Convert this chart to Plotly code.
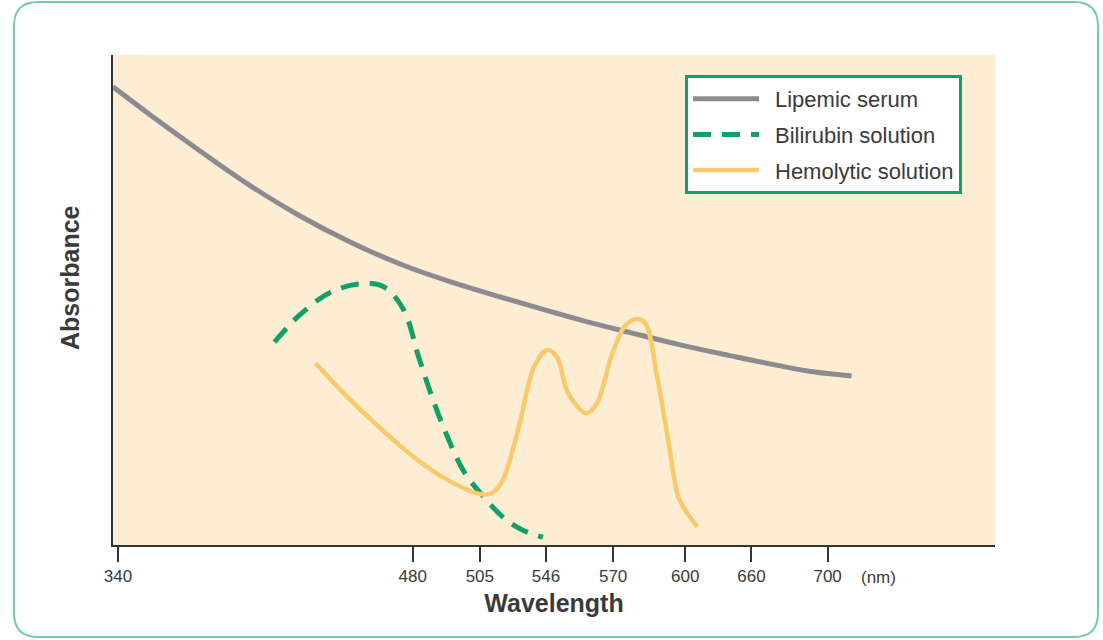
import numpy as np
import plotly.graph_objects as go

# Wavelength axis is drawn on a non-uniform scale: each labelled wavelength
# sits at a fixed place along the axis, and values in between are placed by
# piecewise-linear interpolation.
TICK_NM = [340, 480, 505, 546, 570, 600, 660, 700]
TICK_AXIS = [5, 299, 366, 432, 499, 571, 637, 713]  # axis units (0..880)
AXIS_RANGE = [0, 880]

# Absorption spectra (wavelength in nm, absorbance in arbitrary units)
lipemic_nm = [337.6, 355.2, 379.0, 402.9, 426.7, 450.5, 474.3, 494.2, 518.0,
              558.5, 577.5, 598.3, 641.8, 675.8, 693.2, 712.6]
lipemic_abs = [0.935, 0.878, 0.804, 0.733, 0.671, 0.618, 0.573, 0.537, 0.506,
               0.459, 0.433, 0.408, 0.386, 0.365, 0.353, 0.345]

bilirubin_nm = [414.3, 426.2, 441.0, 455.2, 466.2, 475.7, 482.2, 486.7, 492.3,
                499.4, 507.5, 519.3, 531.1, 544.1]
bilirubin_abs = [0.414, 0.469, 0.516, 0.533, 0.527, 0.480, 0.384, 0.310, 0.229,
                 0.147, 0.098, 0.057, 0.031, 0.016]

hemolytic_nm = [433.8, 448.1, 462.9, 480.7, 492.3, 505.0, 512.5, 519.3, 529.2,
                538.5, 546.4, 549.9, 553.9, 560.3, 564.3, 569.3, 574.6, 579.2,
                583.3, 588.3, 592.9, 597.1, 601.8, 610.9]
hemolytic_abs = [0.371, 0.306, 0.245, 0.178, 0.135, 0.104, 0.106, 0.133, 0.241,
                 0.363, 0.398, 0.384, 0.310, 0.269, 0.290, 0.384, 0.445, 0.461,
                 0.453, 0.343, 0.214, 0.098, 0.065, 0.037]


def to_axis(nm):
    """Map wavelengths onto the piecewise-linear axis, extrapolating past the ends."""
    nm = np.asarray(nm, dtype=float)
    pos = np.interp(nm, TICK_NM, TICK_AXIS)
    lo_slope = (TICK_AXIS[1] - TICK_AXIS[0]) / (TICK_NM[1] - TICK_NM[0])
    hi_slope = (TICK_AXIS[-1] - TICK_AXIS[-2]) / (TICK_NM[-1] - TICK_NM[-2])
    pos = np.where(nm < TICK_NM[0], TICK_AXIS[0] + (nm - TICK_NM[0]) * lo_slope, pos)
    pos = np.where(nm > TICK_NM[-1], TICK_AXIS[-1] + (nm - TICK_NM[-1]) * hi_slope, pos)
    return pos


GRAY = "#8c8c90"
GREEN = "#11a068"
YELLOW = "#f9c96c"
BG = "#fdeed3"
FRAME = "#74ccaa"
TEXT = "#3a3a3a"
FONT = "Liberation Sans, Arial, sans-serif"

fig = go.Figure()
fig.add_trace(go.Scatter(
    x=to_axis(lipemic_nm), y=lipemic_abs, mode="lines", name="\u2002Lipemic serum",
    legendgroup="a", line=dict(color=GRAY, width=5, shape="spline", smoothing=1.0)))
fig.add_trace(go.Scatter(
    x=to_axis(bilirubin_nm), y=bilirubin_abs, mode="lines", name="\u2002Bilirubin solution",
    legendgroup="b", line=dict(color=GREEN, width=5, shape="spline", smoothing=1.0,
                               dash="18px,11px")))
fig.add_trace(go.Scatter(
    x=to_axis(hemolytic_nm), y=hemolytic_abs, mode="lines", name="\u2002Hemolytic solution",
    legendgroup="c", line=dict(color=YELLOW, width=4.5, shape="spline", smoothing=0.9)))

L, R, T, B = 113, 108, 55, 95
W, H = 1103, 640
pw, ph = W - L - R, H - T - B


def px(x):
    return (x - L) / pw


def py(y):
    return (H - B - y) / ph


# rounded outer frame around the whole figure
x0, x1, y0, y1, r = 14, 1098, 2, 637, 24
frame = (
    f"M {px(x0 + r)},{py(y0)} L {px(x1 - r)},{py(y0)} "
    f"Q {px(x1)},{py(y0)} {px(x1)},{py(y0 + r)} "
    f"L {px(x1)},{py(y1 - r)} Q {px(x1)},{py(y1)} {px(x1 - r)},{py(y1)} "
    f"L {px(x0 + r)},{py(y1)} Q {px(x0)},{py(y1)} {px(x0)},{py(y1 - r)} "
    f"L {px(x0)},{py(y0 + r)} Q {px(x0)},{py(y0)} {px(x0 + r)},{py(y0)} Z"
)

fig.update_layout(
    width=W, height=H,
    margin=dict(l=L, r=R, t=T, b=B),
    paper_bgcolor="white",
    plot_bgcolor=BG,
    shapes=[dict(type="path", xref="paper", yref="paper", path=frame,
                 line=dict(color=FRAME, width=2), layer="below")],
    legend=dict(
        x=px(685), y=py(75), xanchor="left", yanchor="top",
        bgcolor="white", bordercolor=GREEN, borderwidth=3,
        font=dict(family=FONT, size=22, color=TEXT),
        itemwidth=66, tracegroupgap=4, traceorder="grouped",
    ),
    xaxis=dict(
        range=AXIS_RANGE, tickmode="array", tickvals=TICK_AXIS,
        ticktext=[str(v) for v in TICK_NM],
        ticks="outside", ticklen=15, tickwidth=1.5, tickcolor="#333333",
        tickfont=dict(family=FONT, size=17, color=TEXT),
        showline=True, linecolor="#333333", linewidth=2,
        showgrid=False, zeroline=False, fixedrange=True,
        title=dict(text="<b>Wavelength</b>", standoff=9,
                   font=dict(family=FONT, size=25, color=TEXT)),
    ),
    yaxis=dict(
        range=[0, 1], showticklabels=False, ticks="",
        showline=True, linecolor="#333333", linewidth=1.5,
        showgrid=False, zeroline=False, fixedrange=True,
    ),
    annotations=[
        dict(text="(nm)", xref="paper", yref="paper", x=px(878), y=py(577),
             xanchor="center", yanchor="middle",
             showarrow=False, font=dict(family=FONT, size=17, color=TEXT)),
        dict(text="<b>Absorbance</b>", xref="paper", yref="paper", x=px(70), y=py(278),
             xanchor="center", yanchor="middle", textangle=-90, showarrow=False,
             font=dict(family=FONT, size=25, color=TEXT)),
    ],
)

fig.write_html("out.html")
